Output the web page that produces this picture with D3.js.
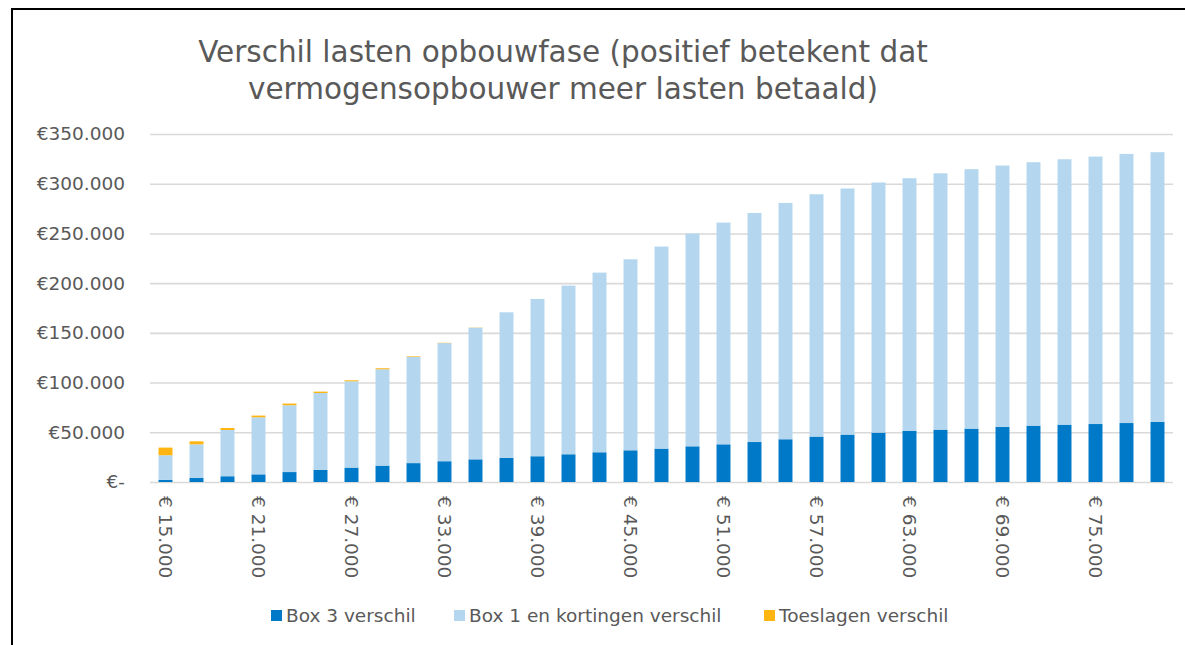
<!DOCTYPE html>
<html>
<head>
<meta charset="utf-8">
<script src="https://cdn.jsdelivr.net/npm/d3@7"></script>
<style>
  body { margin: 0; background: #fff; }
  svg text { font-family: "DejaVu Sans", Verdana, sans-serif; fill: #595959; }
</style>
</head>
<body>
<svg width="1185" height="645"></svg>
<script>

// inkomen (x-as), stappen van 2.000
var incomes = [15000, 17000, 19000, 21000, 23000, 25000, 27000, 29000, 31000, 33000, 35000,
               37000, 39000, 41000, 43000, 45000, 47000, 49000, 51000, 53000, 55000, 57000,
               59000, 61000, 63000, 65000, 67000, 69000, 71000, 73000, 75000, 77000, 79000];

var box3 = [2200, 4000, 5800, 7700, 10000, 12100, 14500, 16500, 19000, 20900, 22800,
            24200, 25900, 27900, 29900, 31900, 33600, 35900, 37900, 40200, 43000, 45700,
            47700, 49700, 51300, 52700, 53700, 55300, 56700, 57700, 58300, 59300, 60400];

var box1 = [24700, 33900, 46500, 57400, 67200, 77400, 86800, 96900, 106800, 118800, 132400,
            146500, 158200, 169600, 180700, 192100, 203200, 214000, 223000, 230400, 237700, 243700,
            247500, 251500, 254200, 257800, 260900, 263000, 264900, 266900, 269000, 270700, 271300];

var toeslagen = [7700, 3000, 2000, 1700, 1700, 1400, 1000, 1000, 600, 300, 200,
                 0, 0, 0, 0, 0, 0, 0, 0, 0, 0, 0,
                 0, 0, 0, 0, 0, 0, 0, 0, 0, 0, 0];

var seriesNames = ["Box 3 verschil", "Box 1 en kortingen verschil", "Toeslagen verschil"];
var seriesColors = ["#0079c8", "#b4d7ef", "#ffb511"];
var yTicks = [0, 50000, 100000, 150000, 200000, 250000, 300000, 350000];
var titleLines = ["Verschil lasten opbouwfase (positief betekent dat",
                  "vermogensopbouwer meer lasten betaald)"];

var svg = d3.select("svg");

// rand om de grafiek
svg.append("rect")
    .attr("x", 12).attr("y", 9)
    .attr("width", 1200).attr("height", 700)
    .attr("fill", "none")
    .attr("stroke", "#000")
    .attr("stroke-width", 2);

var plotLeft = 150, plotRight = 1173, plotTop = 134, plotBottom = 482;

var x = d3.scaleBand()
    .domain(incomes)
    .range([plotLeft, plotRight])
    .paddingInner(0.55)
    .paddingOuter(0.275);

var y = d3.scaleLinear()
    .domain([0, 350000])
    .range([plotBottom, plotTop]);

var nl = d3.formatLocale({ decimal: ",", thousands: ".", grouping: [3], currency: ["€", ""] });
var fmt = nl.format(",.0f");

// gridlijnen + y labels
var yAxis = svg.append("g")
    .attr("transform", "translate(" + plotLeft + ",0)")
    .call(d3.axisLeft(y).tickValues(yTicks)
        .tickSize(-(plotRight - plotLeft))
        .tickPadding(25)
        .tickFormat(function(d) { return d === 0 ? "€-" : "€" + fmt(d); }));
yAxis.select(".domain").remove();
yAxis.selectAll("line").attr("stroke", "#d9d9d9").attr("stroke-width", 1.6);
yAxis.selectAll("text").attr("font-size", "18.5px").attr("font-family", null).attr("fill", "#595959");

// stacked data
var table = incomes.map(function(d, i) {
  return { inc: d, s0: box3[i], s1: box1[i], s2: toeslagen[i] };
});
var stack = d3.stack().keys(["s0", "s1", "s2"]);
var layers = stack(table);

svg.append("g").selectAll("g")
  .data(layers)
  .enter().append("g")
    .attr("fill", function(d, i) { return seriesColors[i]; })
  .selectAll("rect")
  .data(function(d) { return d; })
  .enter().append("rect")
    .attr("x", function(d) { return x(d.data.inc); })
    .attr("width", x.bandwidth())
    .attr("y", function(d) { return y(d[1]); })
    .attr("height", function(d) { return y(d[0]) - y(d[1]); });

// x labels, elke derde categorie, gedraaid
var xAxis = svg.append("g")
    .attr("transform", "translate(0," + plotBottom + ")")
    .call(d3.axisBottom(x)
        .tickValues(incomes.filter(function(d, i) { return i % 3 === 0; }))
        .tickSize(0)
        .tickFormat(function(d) { return "€ " + fmt(d); }));
xAxis.select(".domain").remove();
xAxis.selectAll("text")
    .attr("font-size", "18.5px")
    .attr("font-family", null)
    .attr("fill", "#595959")
    .attr("text-anchor", "start")
    .attr("transform", "rotate(90)")
    .attr("x", 14)
    .attr("y", 0)
    .attr("dy", "0.36em");

// titel
svg.append("text")
    .attr("x", 563)
    .attr("y", 62)
    .attr("text-anchor", "middle")
    .attr("font-size", "29.5px")
  .selectAll("tspan")
  .data(titleLines)
  .enter().append("tspan")
    .attr("x", 563)
    .attr("dy", function(d, i) { return i === 0 ? 0 : 37; })
    .text(function(d) { return d; });

// legenda
var legendX = [271, 454, 764];
var legend = svg.selectAll(".legend")
    .data(seriesNames)
    .enter().append("g")
    .attr("class", "legend")
    .attr("transform", function(d, i) { return "translate(" + legendX[i] + ",610)"; });

legend.append("rect")
    .attr("width", 11)
    .attr("height", 11)
    .attr("fill", function(d, i) { return seriesColors[i]; });

legend.append("text")
    .attr("x", 15)
    .attr("y", 12)
    .attr("font-size", "18.5px")
    .text(function(d) { return d; });

</script>
</body>
</html>
